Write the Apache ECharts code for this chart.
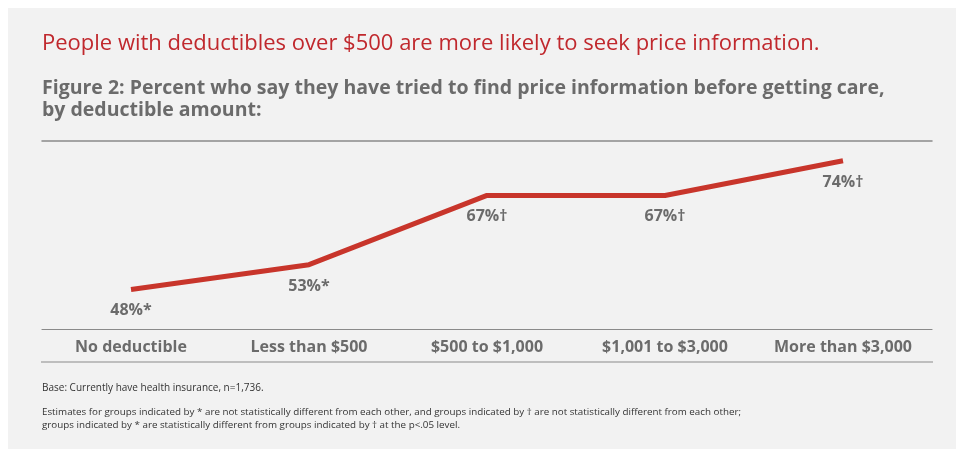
<!DOCTYPE html>
<html>
<head>
<meta charset="utf-8">
<script src="https://cdn.jsdelivr.net/npm/echarts@6/dist/echarts.min.js"></script>
<style>
  html, body { margin: 0; padding: 0; background: #fff; }
  #chart { width: 956px; height: 449px; }
</style>
</head>
<body>
<div id="chart"></div>
<script>
const categories = ["No deductible", "Less than $500", "$500 to $1,000", "$1,001 to $3,000", "More than $3,000"];
const percents = [48, 53, 67, 67, 74];
const marks = ["*", "*", "†", "†", "†"];

const grayText = "#6b6b6b";
const font = "'Open Sans', sans-serif";

const chart = echarts.init(document.getElementById("chart"));
chart.setOption({
    backgroundColor: "#ffffff",
    title: [
        {
            text: "People with deductibles over $500 are more likely to seek price information.",
            left: 37, top: 28,
            textStyle: { color: "#c0282d", fontSize: 22, fontWeight: "normal", fontFamily: font }
        },
        {
            text: "Figure 2: Percent who say they have tried to find price information before getting care,\nby deductible amount:",
            left: 37, top: 72,
            textStyle: { color: grayText, fontSize: 19.5, fontWeight: "bold", lineHeight: 22, fontFamily: font }
        },
        {
            text: "Base: Currently have health insurance, n=1,736.",
            left: 37, top: 378,
            textStyle: { color: "#333", fontSize: 10, fontWeight: "normal", fontFamily: font }
        },
        {
            text: "Estimates for groups indicated by * are not statistically different from each other, and groups indicated by † are not statistically different from each other;\ngroups indicated by * are statistically different from groups indicated by † at the p<.05 level.",
            left: 37, top: 401,
            textStyle: { color: "#333", fontSize: 9.8, fontWeight: "normal", lineHeight: 13, fontFamily: font }
        }
    ],
    graphic: [
        { type: "rect", shape: { x: 8, y: 8, width: 948, height: 441 }, style: { fill: "#f2f2f2" }, z: -10 },
        { type: "line", shape: { x1: 41, y1: 362, x2: 933, y2: 362 }, style: { stroke: "#8a8a8a", lineWidth: 1.2 } }
    ],
    grid: { left: 42, right: 24, top: 141, bottom: 120 },
    xAxis: [
        {
            type: "category",
            data: categories,
            boundaryGap: true,
            axisLine: { lineStyle: { color: "#8a8a8a", width: 1.2 } },
            axisTick: { show: false },
            axisLabel: { interval: 0, color: grayText, fontSize: 16, fontWeight: "bold", margin: 10, fontFamily: font }
        },
        {
            type: "category",
            data: categories,
            position: "top",
            axisLine: { lineStyle: { color: "#8a8a8a", width: 1.5 } },
            axisTick: { show: false },
            axisLabel: { show: false }
        }
    ],
    yAxis: {
        type: "value",
        min: 40, max: 78,
        show: false
    },
    series: [{
        type: "line",
        data: percents,
        symbol: "circle",
        symbolSize: 1,
        showSymbol: true,
        itemStyle: { color: "rgba(0,0,0,0)" },
        lineStyle: { color: "#c8352b", width: 5 },
        labelLayout: { hideOverlap: false },
        label: {
            show: true,
            position: "bottom",
            distance: 13,
            offset: [3, 0],
            color: grayText,
            fontSize: 16,
            fontWeight: "bold",
            fontFamily: font,
            formatter: p => p.value + "%" + marks[p.dataIndex]
        }
    }]
});
</script>
</body>
</html>
